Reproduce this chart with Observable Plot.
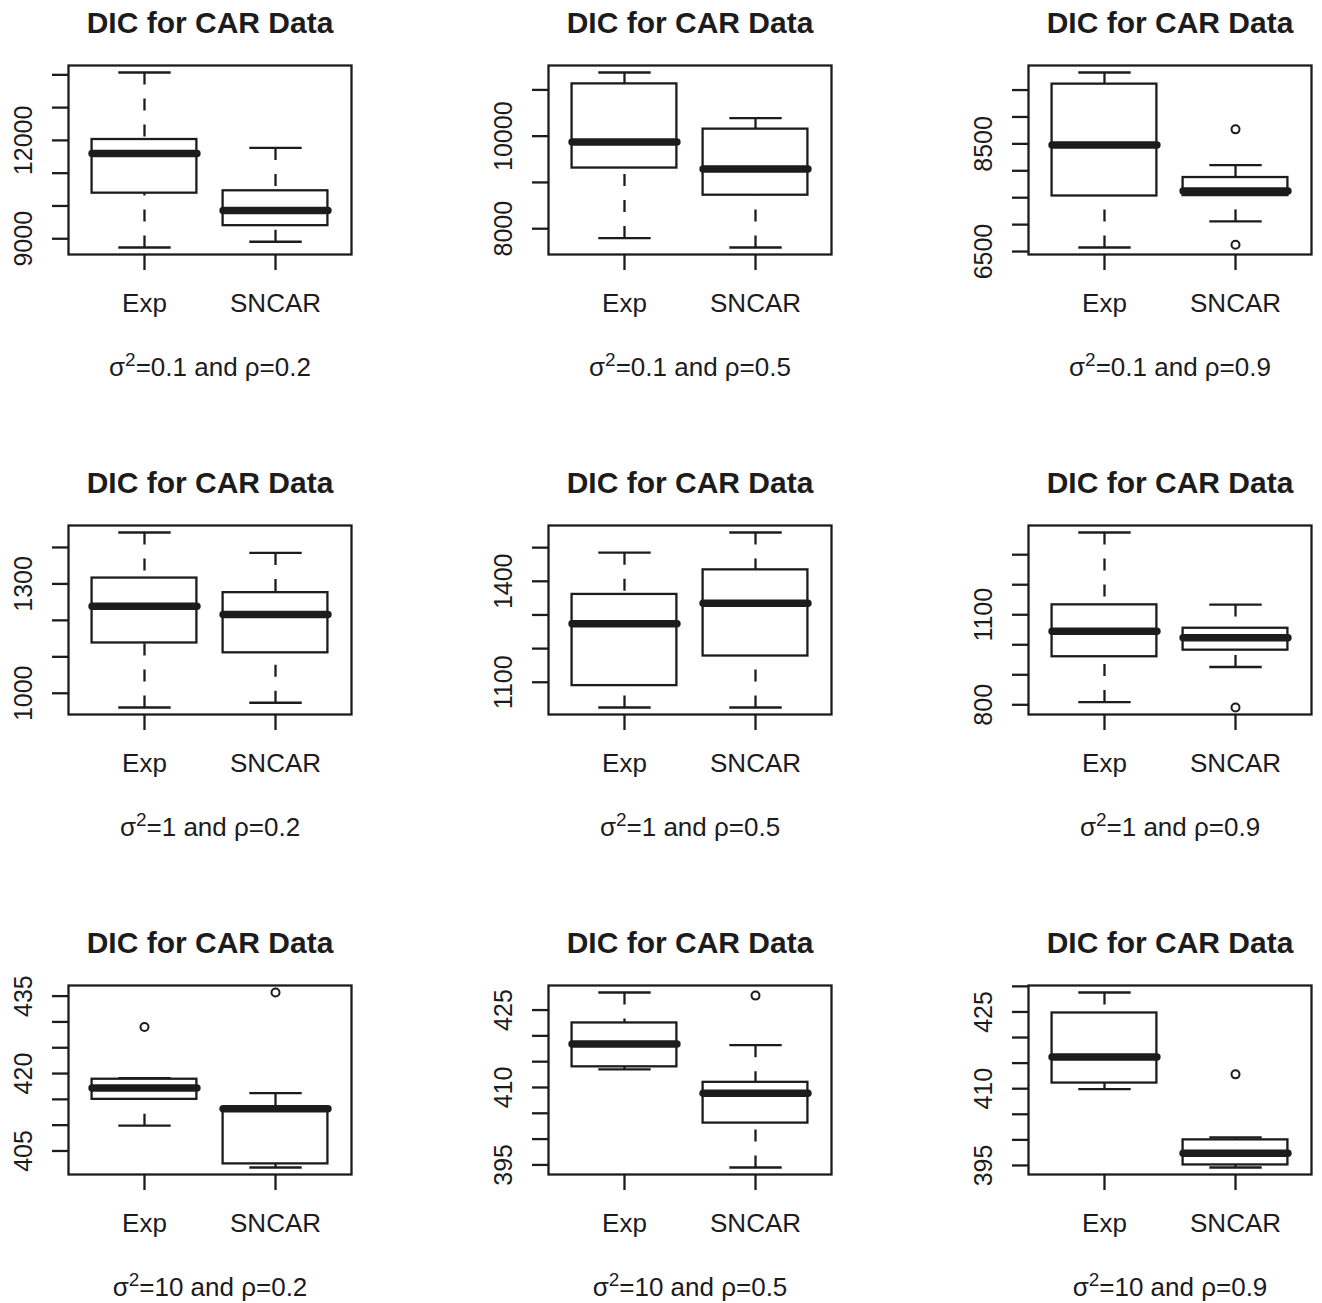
<!DOCTYPE html>
<html>
<head>
<meta charset="utf-8">
<script src="https://cdn.jsdelivr.net/npm/d3@7"></script>
<script src="https://cdn.jsdelivr.net/npm/@observablehq/plot@0.6"></script>
<style>
  html, body { margin: 0; padding: 0; background: #ffffff; }
  #grid { position: relative; width: 1322px; height: 1303px; overflow: hidden; }
  #grid > div { position: absolute; }
</style>
</head>
<body>
<div id="grid"></div>
<script>
// ---- data ----
const panelTitle = "DIC for CAR Data";
const categories = ["Exp", "SNCAR"];
const sigma2Values = ["0.1", "0.1", "0.1", "1", "1", "1", "10", "10", "10"];
const rhoValues = ["0.2", "0.5", "0.9", "0.2", "0.5", "0.9", "0.2", "0.5", "0.9"];

// per panel: [Exp, SNCAR]
const whiskerLow = [[8733, 8908], [7797, 7594], [6575, 7060], [961, 974], [1025, 1025], [809, 926], [409.9, 401.8], [413.5, 394.5], [409.9, 394.6]];
const quartile1 = [[10390, 9399], [9311, 8724], [7532, 7539], [1138, 1111], [1090, 1178], [960, 982], [415.0, 402.5], [414.0, 403.1], [411.1, 395.1]];
const medians = [[11598, 9859], [9876, 9289], [8478, 7625], [1239, 1216], [1274, 1335], [1045, 1023], [417.2, 413.2], [418.4, 408.9], [416.2, 397.4]];
const quartile3 = [[12027, 10463], [11130, 10152], [9610, 7875], [1316, 1276], [1361, 1434], [1133, 1055], [418.9, 413.4], [422.5, 411.0], [424.8, 400.0]];
const whiskerHigh = [[14071, 11770], [11376, 10391], [9826, 8104], [1441, 1385], [1485, 1545], [1374, 1134], [419.1, 416.2], [428.4, 418.2], [428.8, 400.5]];
const outliers = [[[], []], [[], []], [[], [8770, 6625]], [[], []], [[], []], [[], [791]], [[429.0], [435.7]], [[], [427.8]], [[], [412.8]]];

const yTicks = [
  [9000, 10000, 11000, 12000, 13000, 14000],
  [8000, 9000, 10000, 11000],
  [6500, 7000, 7500, 8000, 8500, 9000, 9500],
  [1000, 1100, 1200, 1300, 1400],
  [1100, 1200, 1300, 1400, 1500],
  [800, 900, 1000, 1100, 1200, 1300],
  [405, 410, 415, 420, 425, 430, 435],
  [395, 400, 405, 410, 415, 420, 425],
  [395, 400, 405, 410, 415, 420, 425, 430]
];
const yTickLabels = [
  [9000, 12000],
  [8000, 10000],
  [6500, 8500],
  [1000, 1300],
  [1100, 1400],
  [800, 1100],
  [405, 420, 435],
  [395, 410, 425],
  [395, 410, 425]
];

// ---- drawing ----
const ink = "#1c1c1c";
const lw = 2.3;
const font = "'Liberation Sans', Arial, Helvetica, sans-serif";
const grid = document.getElementById("grid");

for (let p = 0; p < 9; p++) {
  const row = Math.floor(p / 3), col = p % 3;
  const groups = categories.map((c, i) => ({
    name: c, pos: i + 1,
    lo: whiskerLow[p][i], q1: quartile1[p][i], med: medians[p][i],
    q3: quartile3[p][i], hi: whiskerHigh[p][i]
  }));
  const outs = [];
  categories.forEach((c, i) => outliers[p][i].forEach(v => outs.push({pos: i + 1, v})));
  const allVals = groups.flatMap(g => [g.lo, g.hi]).concat(outs.map(o => o.v));
  const mn = d3.min(allVals), mx = d3.max(allVals), pad = (mx - mn) * 0.04;
  const subtitle = `σ²=${sigma2Values[p]} and ρ=${rhoValues[p]}`;

  const chart = Plot.plot({
    width: 362,
    height: 390,
    marginTop: 65,
    marginLeft: 68,
    marginRight: 11,
    marginBottom: 136,
    style: {fontFamily: font, background: "transparent", color: ink, overflow: "visible"},
    x: {domain: [0.5 - 0.08, categories.length + 0.5 + 0.08]},
    y: {domain: [mn - pad, mx + pad]},
    marks: [
      // whiskers (dashed, from whisker end toward box)
      Plot.link(groups, {x1: "pos", x2: "pos", y1: "hi", y2: "q3", stroke: ink, strokeWidth: lw, strokeDasharray: "12,14"}),
      Plot.link(groups, {x1: "pos", x2: "pos", y1: "lo", y2: "q1", stroke: ink, strokeWidth: lw, strokeDasharray: "12,14"}),
      // whisker caps
      Plot.link(groups, {x1: d => d.pos - 0.2, x2: d => d.pos + 0.2, y1: "hi", y2: "hi", stroke: ink, strokeWidth: lw}),
      Plot.link(groups, {x1: d => d.pos - 0.2, x2: d => d.pos + 0.2, y1: "lo", y2: "lo", stroke: ink, strokeWidth: lw}),
      // boxes
      Plot.rect(groups, {x1: d => d.pos - 0.4, x2: d => d.pos + 0.4, y1: "q1", y2: "q3", fill: "white", stroke: ink, strokeWidth: lw}),
      // medians
      Plot.link(groups, {x1: d => d.pos - 0.4, x2: d => d.pos + 0.4, y1: "med", y2: "med", stroke: ink, strokeWidth: 7.5, strokeLinecap: "round"}),
      // outliers
      Plot.dot(outs, {x: "pos", y: "v", r: 4, stroke: ink, strokeWidth: 2, fill: "none"}),
      // frame
      Plot.frame({stroke: ink, strokeWidth: lw}),
      // axes ticks
      Plot.axisY(yTicks[p], {tickSize: 16, tickFormat: () => "", label: null, stroke: ink, strokeWidth: lw}),
      Plot.axisX(groups.map(g => g.pos), {tickSize: 16, tickFormat: () => "", label: null, stroke: ink, strokeWidth: lw}),
      // y tick labels (rotated, as in R)
      Plot.text(yTickLabels[p], {y: d => d, text: d => String(d), frameAnchor: "left", dx: -45, rotate: -90, textAnchor: "middle", lineAnchor: "middle", fontSize: 25, fill: ink}),
      // x category labels
      Plot.text(groups, {x: "pos", text: "name", frameAnchor: "bottom", dy: 57, lineAnchor: "bottom", fontSize: 26, fill: ink}),
      // title
      Plot.text([panelTitle], {text: d => d, frameAnchor: "top", dy: -33, lineAnchor: "bottom", fontSize: 30, fontWeight: "bold", fill: ink}),
      // subtitle
      Plot.text([subtitle], {text: d => d, frameAnchor: "bottom", dy: 121, lineAnchor: "bottom", fontSize: 26, fill: ink, className: "subtitle"})
    ]
  });
  // render the squared sigma with a raised "2" like R's plotmath
  d3.select(chart).selectAll(".subtitle text").each(function () {
    const t = this.textContent;
    const k = t.indexOf("²");
    if (k < 0) return;
    const el = d3.select(this);
    el.text(null);
    el.append("tspan").text(t.slice(0, k));
    el.append("tspan").attr("dy", "-10").attr("font-size", "19").text("2");
    el.append("tspan").attr("dy", "10").text(t.slice(k + 1));
  });
  const cell = document.createElement("div");
  cell.style.left = (col * 480) + "px";
  cell.style.top = (row * 460) + "px";
  cell.appendChild(chart);
  grid.appendChild(cell);
}
</script>
</body>
</html>
